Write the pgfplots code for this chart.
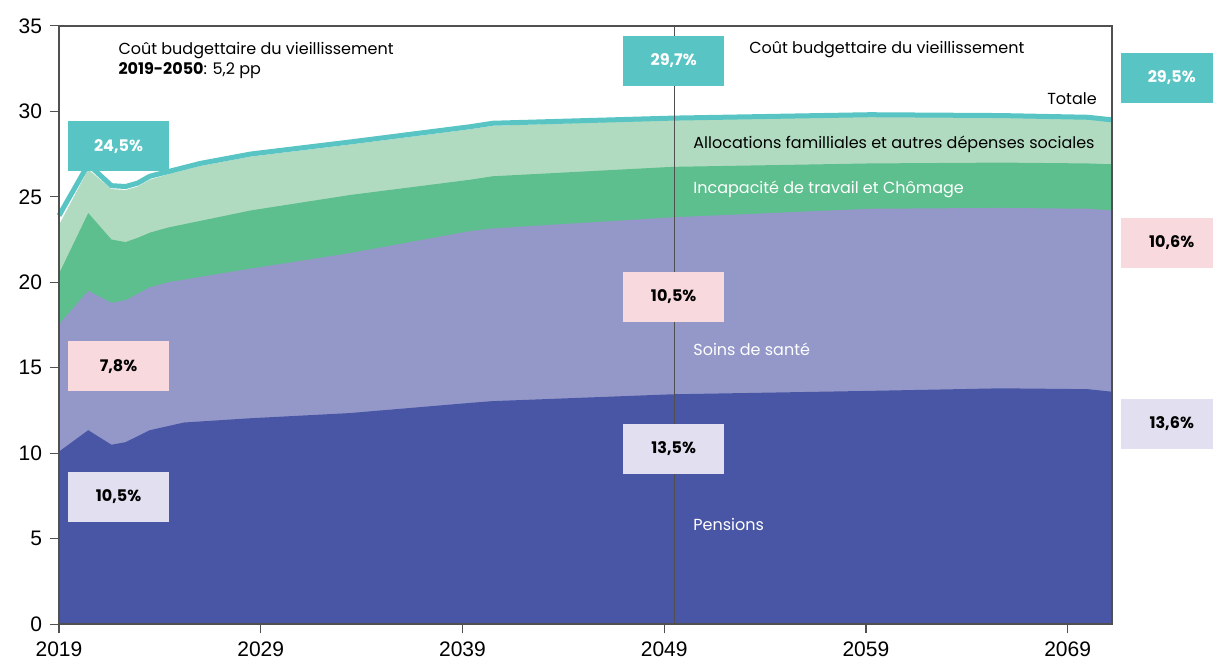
\documentclass[border=0pt]{standalone}
\usepackage{fontspec}
\setmainfont{Poppins}
\newfontfamily\tickfont{Liberation Sans}
\usepackage{pgfplots}
\pgfplotsset{compat=1.18}
\definecolor{cpens}{RGB}{73,86,165}
\definecolor{csoins}{RGB}{148,152,201}
\definecolor{cinc}{RGB}{93,191,141}
\definecolor{calloc}{RGB}{177,219,192}
\definecolor{cteal}{RGB}{88,196,196}
\definecolor{cpink}{RGB}{247,217,222}
\definecolor{clav}{RGB}{226,223,240}
\definecolor{cframe}{RGB}{80,80,80}
\begin{document}
\begin{tikzpicture}
\begin{axis}[
 scale only axis, width=526.5pt, height=299.25pt,
 xmin=2019, xmax=2071.2, ymin=0, ymax=35,
 xtick={2019,2029,2039,2049,2059,2069},
 ytick={0,5,...,35},
 tick align=outside, xtick pos=bottom, ytick pos=left,
 major tick length=4.5pt,
 tick style={color=cframe, line width=0.6pt},
 axis line style={color=cframe, line width=0.8pt},
 /pgf/number format/1000 sep={},
 /pgf/number format/assume math mode=true,
 ticklabel style={font=\tickfont\fontsize{10.5}{12}\selectfont, text=black},
 xticklabel style={inner sep=0pt, yshift=-4.2pt},
 yticklabel style={xshift=-0.5pt},
 clip=false, axis on top,
]
\addplot[fill=calloc, draw=none] coordinates {(2019,23.35) (2020.45,26.6) (2021.6,25.45) (2022.3,25.4) (2022.9,25.6) (2023.5,26.0) (2024.5,26.35) (2026.0,26.8) (2028.5,27.35) (2033.4,28.05) (2039.4,28.95) (2040.5,29.15) (2049.4,29.5) (2059.2,29.7) (2065.7,29.65) (2070,29.55) (2071.2,29.4)} \closedcycle;
\addplot[fill=cinc, draw=none] coordinates {(2019,20.5) (2020.45,24.05) (2021.6,22.5) (2022.3,22.35) (2022.9,22.6) (2023.5,22.9) (2024.4,23.2) (2028.5,24.2) (2033.4,25.1) (2039.4,26.0) (2040.5,26.2) (2049.4,26.75) (2059.2,26.95) (2065.7,27.0) (2070,26.95) (2071.2,26.9)} \closedcycle;
\addplot[fill=csoins, draw=none] coordinates {(2019,17.55) (2020.45,19.5) (2021.6,18.8) (2022.3,18.95) (2023.5,19.7) (2024.4,20.0) (2028.5,20.8) (2033.4,21.7) (2039.4,23.0) (2040.5,23.15) (2049.4,23.8) (2059.2,24.3) (2065.7,24.35) (2070,24.3) (2071.2,24.2)} \closedcycle;
\addplot[fill=cpens, draw=none] coordinates {(2019,10.1) (2020.45,11.35) (2021.6,10.5) (2022.3,10.65) (2023.5,11.35) (2025.2,11.8) (2028.5,12.05) (2033.4,12.35) (2039.4,12.95) (2040.5,13.05) (2049.4,13.45) (2059.2,13.65) (2065.7,13.8) (2070,13.75) (2071.2,13.6)} \closedcycle;
\addplot[cteal, line width=2.5pt, line join=round] coordinates {(2019,23.9) (2020.45,26.9) (2021.6,25.65) (2022.3,25.6) (2022.9,25.8) (2023.5,26.2) (2024.5,26.5) (2026.0,26.95) (2028.5,27.5) (2033.4,28.2) (2039.4,29.1) (2040.5,29.3) (2049.4,29.6) (2059.2,29.8) (2065.7,29.75) (2070,29.65) (2071.2,29.5)};
\draw[cframe, line width=0.5pt] (axis cs:2049.5,0) -- (axis cs:2049.5,35);
% boxes
\tikzset{bx/.style={font=\bfseries\fontsize{8}{9}\selectfont, minimum width=50.5pt, minimum height=25pt, inner sep=0pt}}
\node[bx, fill=cteal, text=white] at (axis cs:2021.95,27.95) {24,5\%};
\node[bx, fill=cpink] at (axis cs:2021.95,15.1) {7,8\%};
\node[bx, fill=clav] at (axis cs:2021.95,7.44) {10,5\%};
\node[bx, fill=cteal, text=white] at (axis cs:2049.47,32.94) {29,7\%};
\node[bx, fill=cpink] at (axis cs:2049.47,19.15) {10,5\%};
\node[bx, fill=clav] at (axis cs:2049.47,10.25) {13,5\%};
\fill[cteal] (axis cs:2071.65,33.42) rectangle (axis cs:2076.21,30.5);
\fill[cpink] (axis cs:2071.65,23.77) rectangle (axis cs:2076.21,20.84);
\fill[clav] (axis cs:2071.65,13.18) rectangle (axis cs:2076.21,10.25);
\node[font=\bfseries\fontsize{8}{9}\selectfont, text=white] at (axis cs:2074.16,31.95) {29,5\%};
\node[font=\bfseries\fontsize{8}{9}\selectfont] at (axis cs:2074.16,22.3) {10,6\%};
\node[font=\bfseries\fontsize{8}{9}\selectfont] at (axis cs:2074.16,11.71) {13,6\%};
% texts
\tikzset{tx/.style={anchor=base west, inner sep=0pt, font=\fontsize{8}{9}\selectfont}}
\node[tx] at (axis cs:2021.93,33.34) {Coût budgettaire du vieillissement};
\node[tx] at (axis cs:2021.93,32.13) {\textbf{2019-2050}: 5,2 pp};
\node[tx] at (axis cs:2053.2,33.4) {Coût budgettaire du vieillissement};
\node[tx, anchor=base east] at (axis cs:2070.46,30.37) {Totale};
\node[tx] at (axis cs:2050.43,27.85) {Allocations familliales et autres dépenses sociales};
\node[tx, text=white] at (axis cs:2050.43,25.22) {Incapacité de travail et Chômage};
\node[tx, text=white] at (axis cs:2050.43,15.7) {Soins de santé};
\node[tx, text=white] at (axis cs:2050.43,5.46) {Pensions};
\end{axis}
\pgfresetboundingbox
\path ([shift={(-29.5pt,-18.35pt)}]current axis.south west) rectangle ([shift={(50.5pt,12.9pt)}]current axis.north east);
\end{tikzpicture}
\end{document}
